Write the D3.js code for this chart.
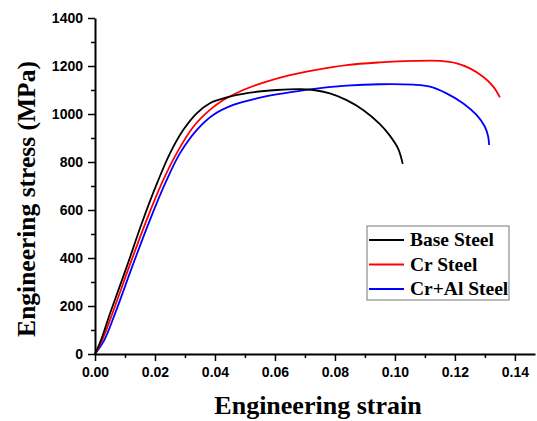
<!DOCTYPE html>
<html>
<head>
<meta charset="utf-8">
<script src="https://cdn.jsdelivr.net/npm/d3@7"></script>
<style>
  body { margin: 0; background: #fff; }
  svg { display: block; }
</style>
</head>
<body>
<div id="chart"></div>
<script>
// strain / stress pairs
const baseStrain = [0, 0.0020, 0.0050, 0.0106, 0.0156, 0.0208, 0.0250, 0.0294, 0.0339, 0.0383, 0.0439, 0.0517, 0.0606, 0.0683, 0.0728, 0.0783, 0.0839, 0.0894, 0.0950, 0.0983, 0.1011, 0.1026];
const baseStress = [0, 58, 169, 364, 545, 715, 836, 933, 1003, 1045, 1069, 1089, 1100, 1104, 1100, 1086, 1058, 1017, 958, 910, 855, 792];

const crStrain = [0, 0.0024, 0.0058, 0.0114, 0.0172, 0.0225, 0.0272, 0.0328, 0.0383, 0.0428, 0.0494, 0.0572, 0.0650, 0.0728, 0.0839, 0.0950, 0.1061, 0.1150, 0.1206, 0.1250, 0.1294, 0.1328, 0.1350];
const crStress = [0, 58, 169, 364, 558, 718, 836, 947, 1017, 1058, 1100, 1135, 1162, 1182, 1204, 1215, 1221, 1221, 1211, 1190, 1155, 1114, 1069];

const crAlStrain = [0, 0.0031, 0.0067, 0.0124, 0.0183, 0.0238, 0.0283, 0.0339, 0.0394, 0.0461, 0.0539, 0.0628, 0.0717, 0.0839, 0.0950, 0.1061, 0.1117, 0.1172, 0.1228, 0.1272, 0.1300, 0.1311, 0.1314];
const crAlStress = [0, 58, 169, 364, 558, 722, 836, 933, 996, 1038, 1065, 1086, 1103, 1118, 1124, 1122, 1114, 1086, 1044, 996, 947, 905, 871];

const seriesNames = ["Base Steel", "Cr Steel", "Cr+Al Steel"];
const seriesColors = ["#000000", "#ff0000", "#0000ff"];

const xTicks = [0, 0.02, 0.04, 0.06, 0.08, 0.10, 0.12, 0.14];
const yTicks = [0, 200, 400, 600, 800, 1000, 1200, 1400];

function drawChart() {
    const width = 537, height = 421;

    const svg = d3.select("#chart")
        .append("svg")
        .attr("width", width)
        .attr("height", height);

    // axis line runs a bit past 0.14, to the edge of the picture
    const x = d3.scaleLinear()
        .domain([0, 0.1467])
        .range([95, 535]);

    const y = d3.scaleLinear()
        .domain([0, 1400])
        .range([354, 18]);

    const tickFont = "'Liberation Sans', Arial, sans-serif";
    const titleFont = "'Liberation Serif', 'Times New Roman', serif";

    // minor ticks first
    svg.append("g")
        .attr("transform", "translate(0,354)")
        .call(d3.axisBottom(x).tickValues(d3.range(0.01, 0.14, 0.02)).tickSize(4).tickFormat(""))
        .call(g => g.select(".domain").remove())
        .selectAll("line").attr("stroke-width", 1.5);

    svg.append("g")
        .attr("transform", "translate(95,0)")
        .call(d3.axisLeft(y).tickValues(d3.range(100, 1400, 200)).tickSize(4).tickFormat(""))
        .call(g => g.select(".domain").remove())
        .selectAll("line").attr("stroke-width", 1.5);

    const xAxis = svg.append("g")
        .attr("transform", "translate(0,354)")
        .call(d3.axisBottom(x).tickValues(xTicks).tickSize(7).tickSizeOuter(0).tickFormat(d3.format(".2f")));
    xAxis.select(".domain").attr("stroke-width", 2);
    xAxis.selectAll("line").attr("stroke-width", 1.5);
    xAxis.selectAll("text")
        .attr("y", 13)
        .style("font-family", tickFont)
        .style("font-weight", "bold")
        .style("font-size", "14px")
        .attr("fill", "#000");

    const yAxis = svg.append("g")
        .attr("transform", "translate(95,0)")
        .call(d3.axisLeft(y).tickValues(yTicks).tickSize(7).tickSizeOuter(0).tickFormat(d3.format("d")));
    yAxis.select(".domain").attr("stroke-width", 2);
    yAxis.selectAll("line").attr("stroke-width", 1.5);
    yAxis.selectAll("text")
        .attr("x", -12)
        .style("font-family", tickFont)
        .style("font-weight", "bold")
        .style("font-size", "14px")
        .attr("fill", "#000");

    // axis titles
    svg.append("text")
        .attr("x", 318)
        .attr("y", 414)
        .style("text-anchor", "middle")
        .style("font-family", titleFont)
        .style("font-weight", "bold")
        .style("font-size", "26px")
        .text("Engineering strain");

    svg.append("text")
        .attr("transform", "translate(35,199) rotate(-90)")
        .style("text-anchor", "middle")
        .style("font-family", titleFont)
        .style("font-weight", "bold")
        .style("font-size", "25.5px")
        .text("Engineering stress (MPa)");

    const allSeries = [
        { name: seriesNames[0], strain: baseStrain, stress: baseStress, color: seriesColors[0] },
        { name: seriesNames[1], strain: crStrain, stress: crStress, color: seriesColors[1] },
        { name: seriesNames[2], strain: crAlStrain, stress: crAlStress, color: seriesColors[2] }
    ];

    const line = d3.line()
        .x(d => x(d[0]))
        .y(d => y(d[1]))
        .curve(d3.curveCatmullRom.alpha(0.5));

    // draw blue and red first so black sits on top like in the figure
    svg.selectAll(".curve")
        .data(allSeries.slice().reverse())
        .enter()
        .append("path")
        .attr("class", "curve")
        .attr("fill", "none")
        .attr("stroke", d => d.color)
        .attr("stroke-width", 1.8)
        .attr("d", d => line(d.strain.map((s, i) => [s, d.stress[i]])));

    // legend
    const legend = svg.append("g").attr("transform", "translate(367,226)");
    legend.append("rect")
        .attr("width", 142)
        .attr("height", 74)
        .attr("fill", "#fff")
        .attr("stroke", "#777")
        .attr("stroke-width", 1);

    const rows = legend.selectAll(".row")
        .data(allSeries)
        .enter()
        .append("g")
        .attr("class", "row")
        .attr("transform", (d, i) => "translate(0," + (14 + i * 24.5) + ")");

    rows.append("line")
        .attr("x1", 2)
        .attr("x2", 37)
        .attr("stroke", d => d.color)
        .attr("stroke-width", 1.8);

    rows.append("text")
        .attr("x", 43)
        .attr("y", 6)
        .style("font-family", titleFont)
        .style("font-weight", "bold")
        .style("font-size", "19.5px")
        .text(d => d.name);
}

drawChart();
</script>
</body>
</html>
